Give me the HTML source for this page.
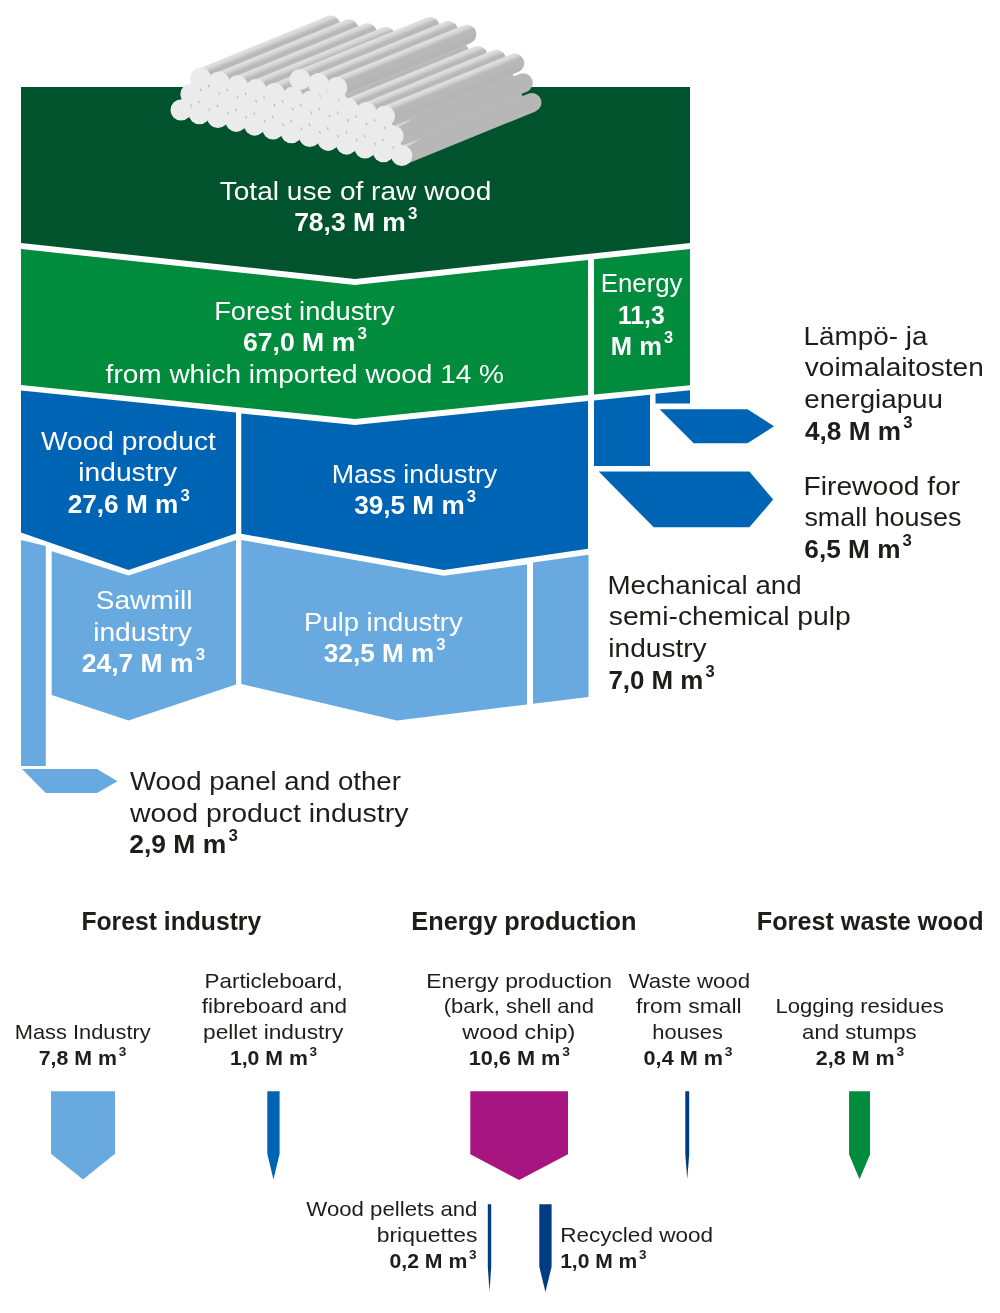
<!DOCTYPE html>
<html><head><meta charset="utf-8"><title>Use of raw wood</title>
<style>
html,body{margin:0;padding:0;background:#fff;}
body{width:1000px;height:1313px;overflow:hidden;}
svg{display:block;will-change:transform;}
svg text{font-family:"Liberation Sans",sans-serif;}
</style></head><body>
<svg width="1000" height="1313" viewBox="0 0 1000 1313">
<rect width="1000" height="1313" fill="#fff"/>
<g id="shapes">
<polygon fill="#00532c" points="21.00,87.00 690.00,87.00 690.00,243.00 355.00,279.00 21.00,243.00"/>
<polygon fill="#008c3c" points="21.00,249.00 355.00,285.00 588.00,260.00 588.00,395.00 355.00,419.00 21.00,385.00"/>
<polygon fill="#008c3c" points="594.00,259.30 690.00,249.00 690.00,385.20 594.00,394.50"/>
<polygon fill="#0064b4" points="21.00,390.50 236.00,412.50 236.00,533.50 128.50,570.00 21.00,532.50"/>
<polygon fill="#0064b4" points="241.30,413.50 355.00,425.00 588.00,401.00 588.00,548.80 443.80,570.00 241.30,533.80"/>
<polygon fill="#0064b4" points="594.00,400.60 650.00,394.80 650.00,466.00 594.00,466.00"/>
<polygon fill="#0064b4" points="655.50,393.80 690.00,390.30 690.00,403.40 655.50,403.40"/>
<polygon fill="#0064b4" points="659.60,409.20 747.50,409.20 774.00,426.20 747.50,443.30 693.70,443.30"/>
<polygon fill="#0064b4" points="598.70,471.60 749.40,471.60 773.20,499.60 749.40,527.30 653.70,527.30"/>
<polygon fill="#68aadf" points="21.00,540.00 45.80,546.00 45.80,766.00 21.00,766.00"/>
<polygon fill="#68aadf" points="22.00,769.00 97.00,769.00 117.50,781.20 97.00,793.00 45.80,793.00"/>
<polygon fill="#68aadf" points="51.70,551.20 128.50,575.50 236.00,540.00 236.00,684.50 128.50,720.50 51.70,695.00"/>
<polygon fill="#68aadf" points="241.30,540.00 443.80,575.80 527.00,564.50 527.00,704.50 397.00,720.50 241.30,684.00"/>
<polygon fill="#68aadf" points="533.00,562.50 588.50,554.70 588.50,697.00 533.00,703.70"/>
<polygon fill="#68aadf" points="51.00,1091.30 115.00,1091.30 115.00,1153.80 83.00,1179.60 51.00,1153.80"/>
<polygon fill="#0064b4" points="267.30,1091.30 279.60,1091.30 279.60,1153.80 273.45,1179.60 267.30,1153.80"/>
<polygon fill="#a61580" points="470.30,1091.30 568.00,1091.30 568.00,1154.30 519.15,1180.00 470.30,1154.30"/>
<polygon fill="#003c82" points="685.30,1091.30 689.20,1091.30 689.20,1154.40 687.25,1179.00 685.30,1154.40"/>
<polygon fill="#008c3c" points="849.10,1091.30 870.00,1091.30 870.00,1154.40 859.55,1179.30 849.10,1154.40"/>
<polygon fill="#003c82" points="487.80,1204.30 491.20,1204.30 491.20,1266.70 489.50,1292.00 487.80,1266.70"/>
<polygon fill="#003c82" points="539.30,1204.30 551.60,1204.30 551.60,1266.70 545.45,1292.00 539.30,1266.70"/>
</g>
<g id="logs">
<defs><linearGradient id="lg" x1="0" y1="0" x2="0" y2="1"><stop offset="0" stop-color="#e2e2e2"/><stop offset="0.18" stop-color="#d6d6d6"/><stop offset="0.36" stop-color="#b9b9b9"/><stop offset="1" stop-color="#b4b4b4"/></linearGradient></defs>
<g transform="translate(181.00,110.00) rotate(-22.18)"><path fill="url(#lg)" d="M0,-9.60 H140.39 A9.60,9.60 0 0 1 140.39,9.60 H0 Z"/></g>
<g transform="translate(199.40,113.80) rotate(-22.18)"><path fill="url(#lg)" d="M0,-9.60 H140.39 A9.60,9.60 0 0 1 140.39,9.60 H0 Z"/></g>
<g transform="translate(217.80,117.60) rotate(-22.18)"><path fill="url(#lg)" d="M0,-9.60 H140.39 A9.60,9.60 0 0 1 140.39,9.60 H0 Z"/></g>
<g transform="translate(236.20,121.40) rotate(-22.18)"><path fill="url(#lg)" d="M0,-9.60 H140.39 A9.60,9.60 0 0 1 140.39,9.60 H0 Z"/></g>
<g transform="translate(254.60,125.20) rotate(-22.18)"><path fill="url(#lg)" d="M0,-9.60 H140.39 A9.60,9.60 0 0 1 140.39,9.60 H0 Z"/></g>
<g transform="translate(273.00,129.00) rotate(-22.18)"><path fill="url(#lg)" d="M0,-9.60 H140.39 A9.60,9.60 0 0 1 140.39,9.60 H0 Z"/></g>
<g transform="translate(291.40,132.80) rotate(-22.18)"><path fill="url(#lg)" d="M0,-9.60 H140.39 A9.60,9.60 0 0 1 140.39,9.60 H0 Z"/></g>
<g transform="translate(309.80,136.60) rotate(-22.18)"><path fill="url(#lg)" d="M0,-9.60 H140.39 A9.60,9.60 0 0 1 140.39,9.60 H0 Z"/></g>
<g transform="translate(328.20,140.40) rotate(-22.18)"><path fill="url(#lg)" d="M0,-9.60 H140.39 A9.60,9.60 0 0 1 140.39,9.60 H0 Z"/></g>
<g transform="translate(346.60,144.20) rotate(-22.18)"><path fill="url(#lg)" d="M0,-9.60 H140.39 A9.60,9.60 0 0 1 140.39,9.60 H0 Z"/></g>
<g transform="translate(365.00,148.00) rotate(-22.18)"><path fill="url(#lg)" d="M0,-9.60 H140.39 A9.60,9.60 0 0 1 140.39,9.60 H0 Z"/></g>
<g transform="translate(383.40,151.80) rotate(-22.18)"><path fill="url(#lg)" d="M0,-9.60 H140.39 A9.60,9.60 0 0 1 140.39,9.60 H0 Z"/></g>
<g transform="translate(401.80,155.60) rotate(-22.18)"><path fill="#b7b7b7" d="M0,-9.60 H140.39 A9.60,9.60 0 0 1 140.39,9.60 H0 Z"/><path fill="#d2d2d2" d="M0,-9.60 L26,-8.60 L0,-4.60 Z"/></g>
<g transform="translate(190.80,94.10) rotate(-22.18)"><path fill="url(#lg)" d="M0,-9.60 H140.39 A9.60,9.60 0 0 1 140.39,9.60 H0 Z"/></g>
<g transform="translate(209.20,97.90) rotate(-22.18)"><path fill="url(#lg)" d="M0,-9.60 H140.39 A9.60,9.60 0 0 1 140.39,9.60 H0 Z"/></g>
<g transform="translate(227.60,101.70) rotate(-22.18)"><path fill="url(#lg)" d="M0,-9.60 H140.39 A9.60,9.60 0 0 1 140.39,9.60 H0 Z"/></g>
<g transform="translate(246.00,105.50) rotate(-22.18)"><path fill="url(#lg)" d="M0,-9.60 H140.39 A9.60,9.60 0 0 1 140.39,9.60 H0 Z"/></g>
<g transform="translate(264.40,109.30) rotate(-22.18)"><path fill="url(#lg)" d="M0,-9.60 H140.39 A9.60,9.60 0 0 1 140.39,9.60 H0 Z"/></g>
<g transform="translate(282.80,113.10) rotate(-22.18)"><path fill="url(#lg)" d="M0,-9.60 H140.39 A9.60,9.60 0 0 1 140.39,9.60 H0 Z"/></g>
<g transform="translate(301.20,116.90) rotate(-22.18)"><path fill="url(#lg)" d="M0,-9.60 H140.39 A9.60,9.60 0 0 1 140.39,9.60 H0 Z"/></g>
<g transform="translate(319.60,120.70) rotate(-22.18)"><path fill="url(#lg)" d="M0,-9.60 H140.39 A9.60,9.60 0 0 1 140.39,9.60 H0 Z"/></g>
<g transform="translate(338.00,124.50) rotate(-22.18)"><path fill="url(#lg)" d="M0,-9.60 H140.39 A9.60,9.60 0 0 1 140.39,9.60 H0 Z"/></g>
<g transform="translate(356.40,128.30) rotate(-22.18)"><path fill="url(#lg)" d="M0,-9.60 H140.39 A9.60,9.60 0 0 1 140.39,9.60 H0 Z"/></g>
<g transform="translate(374.80,132.10) rotate(-22.18)"><path fill="url(#lg)" d="M0,-9.60 H140.39 A9.60,9.60 0 0 1 140.39,9.60 H0 Z"/></g>
<g transform="translate(393.20,135.90) rotate(-22.18)"><path fill="#b7b7b7" d="M0,-9.60 H140.39 A9.60,9.60 0 0 1 140.39,9.60 H0 Z"/><path fill="#d2d2d2" d="M0,-9.60 L26,-8.60 L0,-4.60 Z"/></g>
<g transform="translate(200.60,78.20) rotate(-22.18)"><path fill="url(#lg)" d="M0,-9.60 H140.39 A9.60,9.60 0 0 1 140.39,9.60 H0 Z"/></g>
<g transform="translate(219.00,82.00) rotate(-22.18)"><path fill="url(#lg)" d="M0,-9.60 H140.39 A9.60,9.60 0 0 1 140.39,9.60 H0 Z"/></g>
<g transform="translate(237.40,85.80) rotate(-22.18)"><path fill="url(#lg)" d="M0,-9.60 H140.39 A9.60,9.60 0 0 1 140.39,9.60 H0 Z"/></g>
<g transform="translate(255.80,89.60) rotate(-22.18)"><path fill="url(#lg)" d="M0,-9.60 H140.39 A9.60,9.60 0 0 1 140.39,9.60 H0 Z"/></g>
<g transform="translate(274.20,93.40) rotate(-22.18)"><path fill="url(#lg)" d="M0,-9.60 H140.39 A9.60,9.60 0 0 1 140.39,9.60 H0 Z"/></g>
<g transform="translate(292.60,97.20) rotate(-22.18)"><path fill="url(#lg)" d="M0,-9.60 H140.39 A9.60,9.60 0 0 1 140.39,9.60 H0 Z"/></g>
<g transform="translate(311.00,101.00) rotate(-22.18)"><path fill="url(#lg)" d="M0,-9.60 H140.39 A9.60,9.60 0 0 1 140.39,9.60 H0 Z"/></g>
<g transform="translate(329.40,104.80) rotate(-22.18)"><path fill="url(#lg)" d="M0,-9.60 H140.39 A9.60,9.60 0 0 1 140.39,9.60 H0 Z"/></g>
<g transform="translate(347.80,108.60) rotate(-22.18)"><path fill="url(#lg)" d="M0,-9.60 H140.39 A9.60,9.60 0 0 1 140.39,9.60 H0 Z"/></g>
<g transform="translate(366.20,112.40) rotate(-22.18)"><path fill="url(#lg)" d="M0,-9.60 H140.39 A9.60,9.60 0 0 1 140.39,9.60 H0 Z"/></g>
<g transform="translate(384.60,116.20) rotate(-22.18)"><path fill="url(#lg)" d="M0,-9.60 H140.39 A9.60,9.60 0 0 1 140.39,9.60 H0 Z"/></g>
<g transform="translate(300.00,79.60) rotate(-22.18)"><path fill="url(#lg)" d="M0,-9.60 H140.39 A9.60,9.60 0 0 1 140.39,9.60 H0 Z"/></g>
<g transform="translate(318.40,83.60) rotate(-22.18)"><path fill="url(#lg)" d="M0,-9.60 H140.39 A9.60,9.60 0 0 1 140.39,9.60 H0 Z"/></g>
<g transform="translate(336.80,87.40) rotate(-22.18)"><path fill="url(#lg)" d="M0,-9.60 H140.39 A9.60,9.60 0 0 1 140.39,9.60 H0 Z"/></g>
<line x1="181.00" y1="110.00" x2="199.40" y2="113.80" stroke="#ebebeb" stroke-width="7.5"/>
<line x1="181.00" y1="110.00" x2="190.80" y2="94.10" stroke="#ebebeb" stroke-width="7.5"/>
<line x1="199.40" y1="113.80" x2="217.80" y2="117.60" stroke="#ebebeb" stroke-width="7.5"/>
<line x1="199.40" y1="113.80" x2="190.80" y2="94.10" stroke="#ebebeb" stroke-width="7.5"/>
<line x1="199.40" y1="113.80" x2="209.20" y2="97.90" stroke="#ebebeb" stroke-width="7.5"/>
<line x1="217.80" y1="117.60" x2="236.20" y2="121.40" stroke="#ebebeb" stroke-width="7.5"/>
<line x1="217.80" y1="117.60" x2="209.20" y2="97.90" stroke="#ebebeb" stroke-width="7.5"/>
<line x1="217.80" y1="117.60" x2="227.60" y2="101.70" stroke="#ebebeb" stroke-width="7.5"/>
<line x1="236.20" y1="121.40" x2="254.60" y2="125.20" stroke="#ebebeb" stroke-width="7.5"/>
<line x1="236.20" y1="121.40" x2="227.60" y2="101.70" stroke="#ebebeb" stroke-width="7.5"/>
<line x1="236.20" y1="121.40" x2="246.00" y2="105.50" stroke="#ebebeb" stroke-width="7.5"/>
<line x1="254.60" y1="125.20" x2="273.00" y2="129.00" stroke="#ebebeb" stroke-width="7.5"/>
<line x1="254.60" y1="125.20" x2="246.00" y2="105.50" stroke="#ebebeb" stroke-width="7.5"/>
<line x1="254.60" y1="125.20" x2="264.40" y2="109.30" stroke="#ebebeb" stroke-width="7.5"/>
<line x1="273.00" y1="129.00" x2="291.40" y2="132.80" stroke="#ebebeb" stroke-width="7.5"/>
<line x1="273.00" y1="129.00" x2="264.40" y2="109.30" stroke="#ebebeb" stroke-width="7.5"/>
<line x1="273.00" y1="129.00" x2="282.80" y2="113.10" stroke="#ebebeb" stroke-width="7.5"/>
<line x1="291.40" y1="132.80" x2="309.80" y2="136.60" stroke="#ebebeb" stroke-width="7.5"/>
<line x1="291.40" y1="132.80" x2="282.80" y2="113.10" stroke="#ebebeb" stroke-width="7.5"/>
<line x1="291.40" y1="132.80" x2="301.20" y2="116.90" stroke="#ebebeb" stroke-width="7.5"/>
<line x1="309.80" y1="136.60" x2="328.20" y2="140.40" stroke="#ebebeb" stroke-width="7.5"/>
<line x1="309.80" y1="136.60" x2="301.20" y2="116.90" stroke="#ebebeb" stroke-width="7.5"/>
<line x1="309.80" y1="136.60" x2="319.60" y2="120.70" stroke="#ebebeb" stroke-width="7.5"/>
<line x1="328.20" y1="140.40" x2="346.60" y2="144.20" stroke="#ebebeb" stroke-width="7.5"/>
<line x1="328.20" y1="140.40" x2="319.60" y2="120.70" stroke="#ebebeb" stroke-width="7.5"/>
<line x1="328.20" y1="140.40" x2="338.00" y2="124.50" stroke="#ebebeb" stroke-width="7.5"/>
<line x1="346.60" y1="144.20" x2="365.00" y2="148.00" stroke="#ebebeb" stroke-width="7.5"/>
<line x1="346.60" y1="144.20" x2="338.00" y2="124.50" stroke="#ebebeb" stroke-width="7.5"/>
<line x1="346.60" y1="144.20" x2="356.40" y2="128.30" stroke="#ebebeb" stroke-width="7.5"/>
<line x1="365.00" y1="148.00" x2="383.40" y2="151.80" stroke="#ebebeb" stroke-width="7.5"/>
<line x1="365.00" y1="148.00" x2="356.40" y2="128.30" stroke="#ebebeb" stroke-width="7.5"/>
<line x1="365.00" y1="148.00" x2="374.80" y2="132.10" stroke="#ebebeb" stroke-width="7.5"/>
<line x1="383.40" y1="151.80" x2="401.80" y2="155.60" stroke="#ebebeb" stroke-width="7.5"/>
<line x1="383.40" y1="151.80" x2="374.80" y2="132.10" stroke="#ebebeb" stroke-width="7.5"/>
<line x1="383.40" y1="151.80" x2="393.20" y2="135.90" stroke="#ebebeb" stroke-width="7.5"/>
<line x1="401.80" y1="155.60" x2="393.20" y2="135.90" stroke="#ebebeb" stroke-width="7.5"/>
<line x1="190.80" y1="94.10" x2="209.20" y2="97.90" stroke="#ebebeb" stroke-width="7.5"/>
<line x1="190.80" y1="94.10" x2="200.60" y2="78.20" stroke="#ebebeb" stroke-width="7.5"/>
<line x1="209.20" y1="97.90" x2="227.60" y2="101.70" stroke="#ebebeb" stroke-width="7.5"/>
<line x1="209.20" y1="97.90" x2="200.60" y2="78.20" stroke="#ebebeb" stroke-width="7.5"/>
<line x1="209.20" y1="97.90" x2="219.00" y2="82.00" stroke="#ebebeb" stroke-width="7.5"/>
<line x1="227.60" y1="101.70" x2="246.00" y2="105.50" stroke="#ebebeb" stroke-width="7.5"/>
<line x1="227.60" y1="101.70" x2="219.00" y2="82.00" stroke="#ebebeb" stroke-width="7.5"/>
<line x1="227.60" y1="101.70" x2="237.40" y2="85.80" stroke="#ebebeb" stroke-width="7.5"/>
<line x1="246.00" y1="105.50" x2="264.40" y2="109.30" stroke="#ebebeb" stroke-width="7.5"/>
<line x1="246.00" y1="105.50" x2="237.40" y2="85.80" stroke="#ebebeb" stroke-width="7.5"/>
<line x1="246.00" y1="105.50" x2="255.80" y2="89.60" stroke="#ebebeb" stroke-width="7.5"/>
<line x1="264.40" y1="109.30" x2="282.80" y2="113.10" stroke="#ebebeb" stroke-width="7.5"/>
<line x1="264.40" y1="109.30" x2="255.80" y2="89.60" stroke="#ebebeb" stroke-width="7.5"/>
<line x1="264.40" y1="109.30" x2="274.20" y2="93.40" stroke="#ebebeb" stroke-width="7.5"/>
<line x1="282.80" y1="113.10" x2="301.20" y2="116.90" stroke="#ebebeb" stroke-width="7.5"/>
<line x1="282.80" y1="113.10" x2="274.20" y2="93.40" stroke="#ebebeb" stroke-width="7.5"/>
<line x1="282.80" y1="113.10" x2="292.60" y2="97.20" stroke="#ebebeb" stroke-width="7.5"/>
<line x1="301.20" y1="116.90" x2="319.60" y2="120.70" stroke="#ebebeb" stroke-width="7.5"/>
<line x1="301.20" y1="116.90" x2="292.60" y2="97.20" stroke="#ebebeb" stroke-width="7.5"/>
<line x1="301.20" y1="116.90" x2="311.00" y2="101.00" stroke="#ebebeb" stroke-width="7.5"/>
<line x1="319.60" y1="120.70" x2="338.00" y2="124.50" stroke="#ebebeb" stroke-width="7.5"/>
<line x1="319.60" y1="120.70" x2="311.00" y2="101.00" stroke="#ebebeb" stroke-width="7.5"/>
<line x1="319.60" y1="120.70" x2="329.40" y2="104.80" stroke="#ebebeb" stroke-width="7.5"/>
<line x1="338.00" y1="124.50" x2="356.40" y2="128.30" stroke="#ebebeb" stroke-width="7.5"/>
<line x1="338.00" y1="124.50" x2="329.40" y2="104.80" stroke="#ebebeb" stroke-width="7.5"/>
<line x1="338.00" y1="124.50" x2="347.80" y2="108.60" stroke="#ebebeb" stroke-width="7.5"/>
<line x1="356.40" y1="128.30" x2="374.80" y2="132.10" stroke="#ebebeb" stroke-width="7.5"/>
<line x1="356.40" y1="128.30" x2="347.80" y2="108.60" stroke="#ebebeb" stroke-width="7.5"/>
<line x1="356.40" y1="128.30" x2="366.20" y2="112.40" stroke="#ebebeb" stroke-width="7.5"/>
<line x1="374.80" y1="132.10" x2="393.20" y2="135.90" stroke="#ebebeb" stroke-width="7.5"/>
<line x1="374.80" y1="132.10" x2="366.20" y2="112.40" stroke="#ebebeb" stroke-width="7.5"/>
<line x1="374.80" y1="132.10" x2="384.60" y2="116.20" stroke="#ebebeb" stroke-width="7.5"/>
<line x1="393.20" y1="135.90" x2="384.60" y2="116.20" stroke="#ebebeb" stroke-width="7.5"/>
<line x1="200.60" y1="78.20" x2="219.00" y2="82.00" stroke="#ebebeb" stroke-width="7.5"/>
<line x1="219.00" y1="82.00" x2="237.40" y2="85.80" stroke="#ebebeb" stroke-width="7.5"/>
<line x1="237.40" y1="85.80" x2="255.80" y2="89.60" stroke="#ebebeb" stroke-width="7.5"/>
<line x1="255.80" y1="89.60" x2="274.20" y2="93.40" stroke="#ebebeb" stroke-width="7.5"/>
<line x1="274.20" y1="93.40" x2="292.60" y2="97.20" stroke="#ebebeb" stroke-width="7.5"/>
<line x1="292.60" y1="97.20" x2="311.00" y2="101.00" stroke="#ebebeb" stroke-width="7.5"/>
<line x1="292.60" y1="97.20" x2="300.00" y2="79.60" stroke="#ebebeb" stroke-width="7.5"/>
<line x1="311.00" y1="101.00" x2="329.40" y2="104.80" stroke="#ebebeb" stroke-width="7.5"/>
<line x1="311.00" y1="101.00" x2="318.40" y2="83.60" stroke="#ebebeb" stroke-width="7.5"/>
<line x1="329.40" y1="104.80" x2="347.80" y2="108.60" stroke="#ebebeb" stroke-width="7.5"/>
<line x1="329.40" y1="104.80" x2="318.40" y2="83.60" stroke="#ebebeb" stroke-width="7.5"/>
<line x1="329.40" y1="104.80" x2="336.80" y2="87.40" stroke="#ebebeb" stroke-width="7.5"/>
<line x1="347.80" y1="108.60" x2="366.20" y2="112.40" stroke="#ebebeb" stroke-width="7.5"/>
<line x1="347.80" y1="108.60" x2="336.80" y2="87.40" stroke="#ebebeb" stroke-width="7.5"/>
<line x1="366.20" y1="112.40" x2="384.60" y2="116.20" stroke="#ebebeb" stroke-width="7.5"/>
<line x1="300.00" y1="79.60" x2="318.40" y2="83.60" stroke="#ebebeb" stroke-width="7.5"/>
<line x1="318.40" y1="83.60" x2="336.80" y2="87.40" stroke="#ebebeb" stroke-width="7.5"/>
<circle cx="181.00" cy="110.00" r="10.50" fill="#ebebeb"/>
<circle cx="199.40" cy="113.80" r="10.50" fill="#ebebeb"/>
<circle cx="217.80" cy="117.60" r="10.50" fill="#ebebeb"/>
<circle cx="236.20" cy="121.40" r="10.50" fill="#ebebeb"/>
<circle cx="254.60" cy="125.20" r="10.50" fill="#ebebeb"/>
<circle cx="273.00" cy="129.00" r="10.50" fill="#ebebeb"/>
<circle cx="291.40" cy="132.80" r="10.50" fill="#ebebeb"/>
<circle cx="309.80" cy="136.60" r="10.50" fill="#ebebeb"/>
<circle cx="328.20" cy="140.40" r="10.50" fill="#ebebeb"/>
<circle cx="346.60" cy="144.20" r="10.50" fill="#ebebeb"/>
<circle cx="365.00" cy="148.00" r="10.50" fill="#ebebeb"/>
<circle cx="383.40" cy="151.80" r="10.50" fill="#ebebeb"/>
<circle cx="401.80" cy="155.60" r="10.50" fill="#ebebeb"/>
<circle cx="190.80" cy="94.10" r="10.50" fill="#ebebeb"/>
<circle cx="209.20" cy="97.90" r="10.50" fill="#ebebeb"/>
<circle cx="227.60" cy="101.70" r="10.50" fill="#ebebeb"/>
<circle cx="246.00" cy="105.50" r="10.50" fill="#ebebeb"/>
<circle cx="264.40" cy="109.30" r="10.50" fill="#ebebeb"/>
<circle cx="282.80" cy="113.10" r="10.50" fill="#ebebeb"/>
<circle cx="301.20" cy="116.90" r="10.50" fill="#ebebeb"/>
<circle cx="319.60" cy="120.70" r="10.50" fill="#ebebeb"/>
<circle cx="338.00" cy="124.50" r="10.50" fill="#ebebeb"/>
<circle cx="356.40" cy="128.30" r="10.50" fill="#ebebeb"/>
<circle cx="374.80" cy="132.10" r="10.50" fill="#ebebeb"/>
<circle cx="393.20" cy="135.90" r="10.50" fill="#ebebeb"/>
<circle cx="200.60" cy="78.20" r="10.50" fill="#ebebeb"/>
<circle cx="219.00" cy="82.00" r="10.50" fill="#ebebeb"/>
<circle cx="237.40" cy="85.80" r="10.50" fill="#ebebeb"/>
<circle cx="255.80" cy="89.60" r="10.50" fill="#ebebeb"/>
<circle cx="274.20" cy="93.40" r="10.50" fill="#ebebeb"/>
<circle cx="292.60" cy="97.20" r="10.50" fill="#ebebeb"/>
<circle cx="311.00" cy="101.00" r="10.50" fill="#ebebeb"/>
<circle cx="329.40" cy="104.80" r="10.50" fill="#ebebeb"/>
<circle cx="347.80" cy="108.60" r="10.50" fill="#ebebeb"/>
<circle cx="366.20" cy="112.40" r="10.50" fill="#ebebeb"/>
<circle cx="384.60" cy="116.20" r="10.50" fill="#ebebeb"/>
<circle cx="300.00" cy="79.60" r="10.50" fill="#ebebeb"/>
<circle cx="318.40" cy="83.60" r="10.50" fill="#ebebeb"/>
<circle cx="336.80" cy="87.40" r="10.50" fill="#ebebeb"/>
</g>
<g id="labels">
<text x="219.72" y="200.0" font-size="26" font-weight="400" fill="#fff" textLength="271.56" lengthAdjust="spacingAndGlyphs">Total use of raw wood</text>
<text x="294.17" y="231.0" font-size="26" font-weight="700" fill="#fff" textLength="123.21" lengthAdjust="spacingAndGlyphs">78,3 M m<tspan font-size="16.6" dx="2.1" dy="-11.7">3</tspan></text>
<text x="214.18" y="320.0" font-size="26" font-weight="400" fill="#fff" textLength="180.45" lengthAdjust="spacingAndGlyphs">Forest industry</text>
<text x="243.03" y="351.0" font-size="26" font-weight="700" fill="#fff" textLength="123.83" lengthAdjust="spacingAndGlyphs">67,0 M m<tspan font-size="16.6" dx="2.1" dy="-11.7">3</tspan></text>
<text x="105.62" y="383.0" font-size="26" font-weight="400" fill="#fff" textLength="398.40" lengthAdjust="spacingAndGlyphs">from which imported wood 14 %</text>
<text x="600.76" y="292.0" font-size="26" font-weight="400" fill="#fff" textLength="81.79" lengthAdjust="spacingAndGlyphs">Energy</text>
<text x="617.97" y="324.0" font-size="26" font-weight="700" fill="#fff" textLength="46.70" lengthAdjust="spacingAndGlyphs">11,3</text>
<text x="610.79" y="355.0" font-size="26" font-weight="700" fill="#fff" textLength="62.30" lengthAdjust="spacingAndGlyphs">M m<tspan font-size="16.6" dx="2.1" dy="-11.7">3</tspan></text>
<text x="40.92" y="450.0" font-size="26" font-weight="400" fill="#fff" textLength="175.01" lengthAdjust="spacingAndGlyphs">Wood product</text>
<text x="78.29" y="481.0" font-size="26" font-weight="400" fill="#fff" textLength="98.71" lengthAdjust="spacingAndGlyphs">industry</text>
<text x="67.73" y="513.0" font-size="26" font-weight="700" fill="#fff" textLength="121.96" lengthAdjust="spacingAndGlyphs">27,6 M m<tspan font-size="16.6" dx="2.1" dy="-11.7">3</tspan></text>
<text x="331.69" y="483.0" font-size="26" font-weight="400" fill="#fff" textLength="165.62" lengthAdjust="spacingAndGlyphs">Mass industry</text>
<text x="354.17" y="514.0" font-size="26" font-weight="700" fill="#fff" textLength="121.93" lengthAdjust="spacingAndGlyphs">39,5 M m<tspan font-size="16.6" dx="2.1" dy="-11.7">3</tspan></text>
<text x="95.67" y="609.0" font-size="26" font-weight="400" fill="#fff" textLength="96.84" lengthAdjust="spacingAndGlyphs">Sawmill</text>
<text x="93.18" y="641.0" font-size="26" font-weight="400" fill="#fff" textLength="98.74" lengthAdjust="spacingAndGlyphs">industry</text>
<text x="81.71" y="672.0" font-size="26" font-weight="700" fill="#fff" textLength="123.41" lengthAdjust="spacingAndGlyphs">24,7 M m<tspan font-size="16.6" dx="2.1" dy="-11.7">3</tspan></text>
<text x="304.12" y="631.0" font-size="26" font-weight="400" fill="#fff" textLength="158.51" lengthAdjust="spacingAndGlyphs">Pulp industry</text>
<text x="323.81" y="662.0" font-size="26" font-weight="700" fill="#fff" textLength="121.86" lengthAdjust="spacingAndGlyphs">32,5 M m<tspan font-size="16.6" dx="2.1" dy="-11.7">3</tspan></text>
<text x="803.61" y="345.0" font-size="26" font-weight="400" fill="#1d1d1b" textLength="123.85" lengthAdjust="spacingAndGlyphs">Lämpö- ja</text>
<text x="804.87" y="376.0" font-size="26" font-weight="400" fill="#1d1d1b" textLength="178.84" lengthAdjust="spacingAndGlyphs">voimalaitosten</text>
<text x="804.28" y="408.0" font-size="26" font-weight="400" fill="#1d1d1b" textLength="138.63" lengthAdjust="spacingAndGlyphs">energiapuu</text>
<text x="804.96" y="440.0" font-size="26" font-weight="700" fill="#1d1d1b" textLength="107.52" lengthAdjust="spacingAndGlyphs">4,8 M m<tspan font-size="16.6" dx="2.1" dy="-11.7">3</tspan></text>
<text x="803.54" y="495.0" font-size="26" font-weight="400" fill="#1d1d1b" textLength="156.70" lengthAdjust="spacingAndGlyphs">Firewood for</text>
<text x="804.42" y="526.0" font-size="26" font-weight="400" fill="#1d1d1b" textLength="156.96" lengthAdjust="spacingAndGlyphs">small houses</text>
<text x="804.30" y="558.0" font-size="26" font-weight="700" fill="#1d1d1b" textLength="107.59" lengthAdjust="spacingAndGlyphs">6,5 M m<tspan font-size="16.6" dx="2.1" dy="-11.7">3</tspan></text>
<text x="607.46" y="594.0" font-size="26" font-weight="400" fill="#1d1d1b" textLength="194.20" lengthAdjust="spacingAndGlyphs">Mechanical and</text>
<text x="608.75" y="625.0" font-size="26" font-weight="400" fill="#1d1d1b" textLength="242.07" lengthAdjust="spacingAndGlyphs">semi-chemical pulp</text>
<text x="608.31" y="657.0" font-size="26" font-weight="400" fill="#1d1d1b" textLength="98.38" lengthAdjust="spacingAndGlyphs">industry</text>
<text x="608.38" y="689.0" font-size="26" font-weight="700" fill="#1d1d1b" textLength="106.28" lengthAdjust="spacingAndGlyphs">7,0 M m<tspan font-size="16.6" dx="2.1" dy="-11.7">3</tspan></text>
<text x="130.00" y="790.0" font-size="26" font-weight="400" fill="#1d1d1b" textLength="270.83" lengthAdjust="spacingAndGlyphs">Wood panel and other</text>
<text x="129.92" y="822.0" font-size="26" font-weight="400" fill="#1d1d1b" textLength="278.56" lengthAdjust="spacingAndGlyphs">wood product industry</text>
<text x="129.19" y="853.0" font-size="26" font-weight="700" fill="#1d1d1b" textLength="108.62" lengthAdjust="spacingAndGlyphs">2,9 M m<tspan font-size="16.6" dx="2.1" dy="-11.7">3</tspan></text>
<text x="81.44" y="930.0" font-size="26.5" font-weight="700" fill="#1d1d1b" textLength="179.77" lengthAdjust="spacingAndGlyphs">Forest industry</text>
<text x="411.34" y="930.0" font-size="26.5" font-weight="700" fill="#1d1d1b" textLength="225.22" lengthAdjust="spacingAndGlyphs">Energy production</text>
<text x="756.82" y="930.0" font-size="26.5" font-weight="700" fill="#1d1d1b" textLength="226.78" lengthAdjust="spacingAndGlyphs">Forest waste wood</text>
<text x="14.73" y="1039.0" font-size="21" font-weight="400" fill="#1d1d1b" textLength="136.00" lengthAdjust="spacingAndGlyphs">Mass Industry</text>
<text x="38.71" y="1065.0" font-size="21" font-weight="700" fill="#1d1d1b" textLength="87.56" lengthAdjust="spacingAndGlyphs">7,8 M m<tspan font-size="13.4" dx="1.7" dy="-9.5">3</tspan></text>
<text x="204.56" y="988.0" font-size="21" font-weight="400" fill="#1d1d1b" textLength="138.17" lengthAdjust="spacingAndGlyphs">Particleboard,</text>
<text x="201.75" y="1013.0" font-size="21" font-weight="400" fill="#1d1d1b" textLength="145.30" lengthAdjust="spacingAndGlyphs">fibreboard and</text>
<text x="203.02" y="1039.0" font-size="21" font-weight="400" fill="#1d1d1b" textLength="140.25" lengthAdjust="spacingAndGlyphs">pellet industry</text>
<text x="229.91" y="1065.0" font-size="21" font-weight="700" fill="#1d1d1b" textLength="87.19" lengthAdjust="spacingAndGlyphs">1,0 M m<tspan font-size="13.4" dx="1.7" dy="-9.5">3</tspan></text>
<text x="426.20" y="988.0" font-size="21" font-weight="400" fill="#1d1d1b" textLength="185.94" lengthAdjust="spacingAndGlyphs">Energy production</text>
<text x="443.73" y="1013.0" font-size="21" font-weight="400" fill="#1d1d1b" textLength="150.34" lengthAdjust="spacingAndGlyphs">(bark, shell and</text>
<text x="462.38" y="1039.0" font-size="21" font-weight="400" fill="#1d1d1b" textLength="112.82" lengthAdjust="spacingAndGlyphs">wood chip)</text>
<text x="468.68" y="1065.0" font-size="21" font-weight="700" fill="#1d1d1b" textLength="101.17" lengthAdjust="spacingAndGlyphs">10,6 M m<tspan font-size="13.4" dx="1.7" dy="-9.5">3</tspan></text>
<text x="628.58" y="988.0" font-size="21" font-weight="400" fill="#1d1d1b" textLength="121.52" lengthAdjust="spacingAndGlyphs">Waste wood</text>
<text x="636.11" y="1013.0" font-size="21" font-weight="400" fill="#1d1d1b" textLength="105.50" lengthAdjust="spacingAndGlyphs">from small</text>
<text x="652.32" y="1039.0" font-size="21" font-weight="400" fill="#1d1d1b" textLength="70.66" lengthAdjust="spacingAndGlyphs">houses</text>
<text x="643.59" y="1065.0" font-size="21" font-weight="700" fill="#1d1d1b" textLength="88.86" lengthAdjust="spacingAndGlyphs">0,4 M m<tspan font-size="13.4" dx="1.7" dy="-9.5">3</tspan></text>
<text x="775.46" y="1013.0" font-size="21" font-weight="400" fill="#1d1d1b" textLength="168.28" lengthAdjust="spacingAndGlyphs">Logging residues</text>
<text x="802.10" y="1039.0" font-size="21" font-weight="400" fill="#1d1d1b" textLength="114.60" lengthAdjust="spacingAndGlyphs">and stumps</text>
<text x="815.86" y="1065.0" font-size="21" font-weight="700" fill="#1d1d1b" textLength="88.26" lengthAdjust="spacingAndGlyphs">2,8 M m<tspan font-size="13.4" dx="1.7" dy="-9.5">3</tspan></text>
<text x="306.36" y="1216.0" font-size="21" font-weight="400" fill="#1d1d1b" textLength="171.07" lengthAdjust="spacingAndGlyphs">Wood pellets and</text>
<text x="376.72" y="1242.0" font-size="21" font-weight="400" fill="#1d1d1b" textLength="100.73" lengthAdjust="spacingAndGlyphs">briquettes</text>
<text x="389.46" y="1268.0" font-size="21" font-weight="700" fill="#1d1d1b" textLength="87.15" lengthAdjust="spacingAndGlyphs">0,2 M m<tspan font-size="13.4" dx="1.7" dy="-9.5">3</tspan></text>
<text x="560.28" y="1242.0" font-size="21" font-weight="400" fill="#1d1d1b" textLength="152.80" lengthAdjust="spacingAndGlyphs">Recycled wood</text>
<text x="560.20" y="1268.0" font-size="21" font-weight="700" fill="#1d1d1b" textLength="86.23" lengthAdjust="spacingAndGlyphs">1,0 M m<tspan font-size="13.4" dx="1.7" dy="-9.5">3</tspan></text>
</g>
</svg>
</body></html>
